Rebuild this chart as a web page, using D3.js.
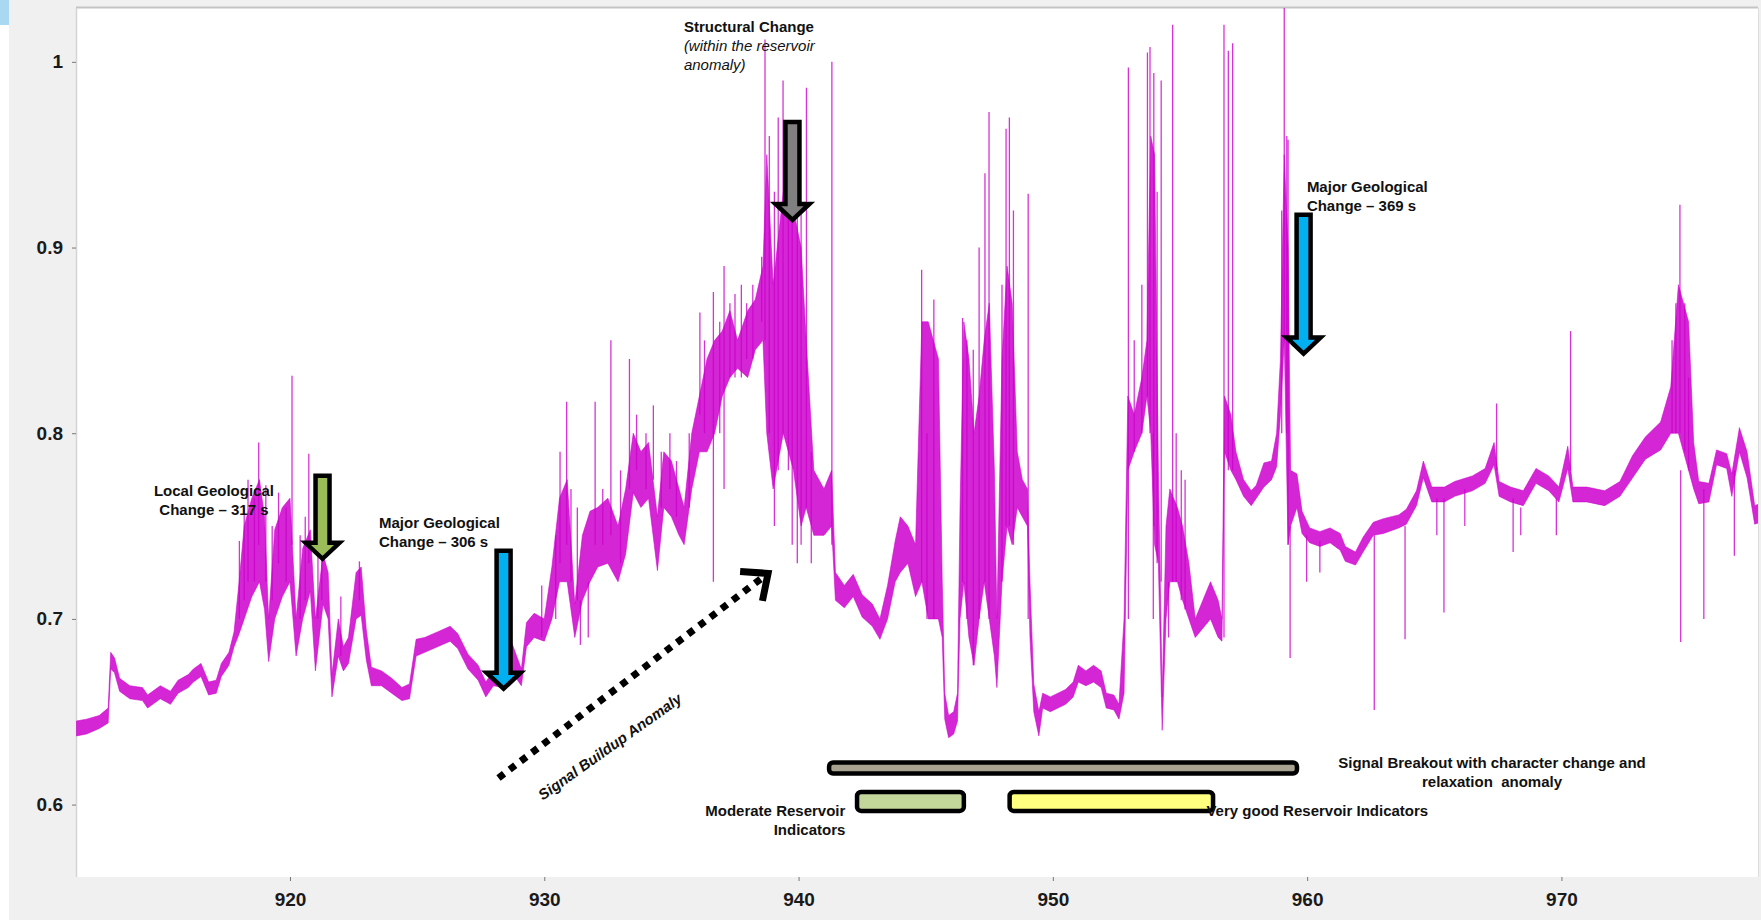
<!DOCTYPE html>
<html>
<head>
<meta charset="utf-8">
<script src="https://cdn.jsdelivr.net/npm/d3@7"></script>
<style>
  body { margin: 0; background: #fff; }
  svg { display: block; font-family: "Liberation Sans", Arial, sans-serif; }
</style>
</head>
<body>
<div id="viz"></div>
<script>
// trace envelope: time, lower and upper edge of the noisy band
var time = [911.6, 912.0, 912.5, 912.85, 912.95, 913.1, 913.3, 913.7, 914.2, 914.4, 914.9, 915.3, 915.6, 916.0, 916.2, 916.5, 916.8, 917.1, 917.3, 917.6, 917.8,
  918.0, 918.2, 918.5, 918.8, 919.0, 919.16, 919.4, 919.7, 920.0, 920.24, 920.5, 920.8, 921.0, 921.3, 921.5, 921.65, 921.9, 922.1, 922.3, 922.6, 922.8,
  923.0, 923.2, 923.6, 924.0, 924.4, 924.7, 924.96, 925.3, 925.8, 926.3, 926.6, 927.0, 927.4, 927.7, 928.0, 928.4, 928.7, 929.1, 929.3, 929.6,
  930.0, 930.3, 930.6, 930.9, 931.2, 931.5, 931.8, 932.1, 932.5, 932.9, 933.2, 933.5, 933.8, 934.1, 934.45, 934.7, 935.0, 935.3, 935.5, 935.8,
  936.1, 936.4, 936.7, 937.0, 937.3, 937.6, 938.0, 938.3, 938.6, 938.75, 939.0, 939.4, 939.8, 940.1, 940.3, 940.6, 941.0, 941.3, 941.45, 941.8,
  942.15, 942.5, 942.9, 943.2, 943.5, 943.8, 944.0, 944.3, 944.6, 944.85, 945.1, 945.5, 945.65, 945.75, 945.9, 946.1, 946.25, 946.35, 946.5, 946.7,
  946.9, 947.1, 947.3, 947.5, 947.7, 947.8, 948.0, 948.2, 948.4, 948.6, 948.8, 949.0, 949.1, 949.25, 949.45, 949.6, 949.9, 950.2, 950.5, 950.8,
  951.0, 951.3, 951.6, 951.9, 952.1, 952.4, 952.6, 952.8, 952.95, 953.2, 953.5, 953.7, 953.85, 954.0, 954.15, 954.3, 954.45, 954.6, 954.9, 955.1,
  955.35, 955.6, 955.9, 956.2, 956.5, 956.65, 956.75, 957.0, 957.2, 957.5, 957.8, 958.0, 958.3, 958.6, 958.8, 958.95, 959.1, 959.25, 959.35, 959.6,
  959.8, 960.1, 960.5, 960.9, 961.3, 961.5, 961.9, 962.2, 962.6, 963.0, 963.6, 963.9, 964.3, 964.57, 964.9, 965.4, 965.8, 966.5, 967.0, 967.35,
  967.55, 968.0, 968.5, 969.0, 969.5, 969.9, 970.25, 970.45, 971.0, 971.7, 972.3, 972.8, 973.3, 973.9, 974.3, 974.6, 975.0, 975.2, 975.4, 975.8,
  976.1, 976.5, 976.7, 977.0, 977.3, 977.6, 977.8];
var lower = [.637, .638, .641, .644, .673, .671, .661, .657, .656, .652, .657, .654, .660, .663, .666, .669, .659, .660, .669, .675, .685,
  .692, .700, .712, .720, .705, .677, .700, .712, .720, .680, .700, .715, .672, .708, .700, .658, .680, .672, .676, .700, .702,
  .678, .664, .664, .660, .656, .657, .680, .682, .685, .688, .684, .673, .667, .658, .664, .663, .672, .664, .685, .690,
  .688, .700, .720, .720, .690, .710, .720, .728, .730, .720, .735, .768, .760, .765, .726, .760, .755, .745, .740, .770,
  .790, .790, .800, .820, .830, .835, .830, .845, .850, .800, .770, .800, .780, .750, .760, .745, .745, .750, .710, .706,
  .712, .701, .696, .689, .700, .720, .725, .730, .712, .720, .700, .700, .690, .646, .636, .638, .645, .700, .720, .690,
  .675, .700, .720, .700, .680, .663, .720, .750, .740, .760, .755, .750, .690, .650, .637, .652, .650, .652, .654, .658,
  .666, .664, .666, .663, .652, .651, .646, .660, .780, .790, .800, .820, .800, .740, .730, .640, .700, .720, .720, .710,
  .700, .690, .695, .700, .690, .688, .790, .780, .775, .766, .761, .765, .771, .775, .782, .810, .850, .740, .750, .760,
  .746, .741, .739, .741, .737, .731, .729, .736, .745, .746, .749, .751, .761, .776, .763, .763, .766, .769, .773, .783,
  .766, .763, .761, .773, .769, .763, .781, .763, .763, .761, .766, .776, .786, .791, .800, .800, .780, .770, .762, .763,
  .783, .781, .766, .790, .776, .751, .752];
var upper = [.645, .646, .648, .652, .682, .679, .668, .664, .663, .659, .664, .661, .667, .670, .673, .676, .666, .667, .676, .682, .693,
  .720, .750, .765, .775, .755, .700, .748, .760, .765, .700, .738, .748, .700, .735, .725, .670, .700, .685, .690, .725, .728,
  .694, .674, .672, .668, .663, .665, .689, .690, .693, .696, .692, .681, .675, .666, .672, .671, .688, .673, .698, .703,
  .700, .728, .765, .775, .708, .745, .758, .760, .765, .750, .770, .800, .790, .795, .755, .790, .785, .770, .760, .800,
  .820, .840, .850, .855, .866, .850, .866, .872, .890, .950, .880, .930, .920, .900, .850, .780, .770, .780, .725, .718,
  .724, .713, .708, .700, .718, .742, .755, .750, .740, .860, .860, .840, .720, .660, .648, .650, .660, .760, .860, .840,
  .800, .820, .850, .870, .780, .700, .840, .890, .870, .790, .775, .770, .720, .665, .650, .660, .658, .660, .662, .666,
  .675, .672, .675, .672, .660, .659, .654, .700, .820, .810, .830, .850, .960, .950, .780, .658, .750, .770, .760, .750,
  .730, .700, .710, .720, .710, .700, .820, .810, .790, .775, .769, .772, .784, .785, .800, .840, .950, .900, .780, .778,
  .758, .749, .747, .749, .746, .739, .736, .744, .752, .754, .756, .759, .769, .785, .771, .771, .774, .777, .781, .795,
  .774, .771, .769, .781, .777, .771, .793, .771, .771, .769, .774, .788, .798, .806, .825, .880, .860, .795, .774, .773,
  .791, .789, .778, .803, .790, .761, .762];

// isolated spikes: time, value where they leave the band, value at the tip
var spikeTime = [918.01, 918.2, 918.35, 918.6, 918.77, 919.05, 919.3, 919.55, 919.85, 920.08, 920.4, 920.6, 920.74, 921.1, 921.25, 922.0, 922.73,
  929.9, 930.45, 930.62, 930.88, 931.05, 931.3, 931.42, 931.73, 932.0, 932.3, 932.62, 933.0, 933.35, 933.63, 934.0, 934.29, 934.6, 934.94, 935.2, 935.7,
  936.12, 936.3, 936.65, 936.9, 937.07, 937.3, 937.5, 937.75, 937.96, 938.2, 938.55, 938.68, 938.85, 939.05, 939.2, 939.39, 939.6, 939.75, 939.95, 940.1, 940.31, 940.5, 941.31,
  944.84, 945.05, 945.32, 946.45, 946.62, 946.87, 947.1, 947.33, 947.49, 948.0, 948.16, 948.29, 948.45, 949.03,
  952.97, 953.2, 953.5, 953.72, 953.82, 953.95, 953.97, 954.1, 954.26, 954.55, 954.71, 954.85, 955.05, 955.2,
  956.73, 956.9, 957.07, 959.0, 959.1, 959.2, 959.25, 959.33, 959.98, 960.5,
  962.64, 963.85, 965.1, 965.38, 966.2, 967.45, 968.1, 968.4, 969.8, 970.36,
  974.35, 974.5, 974.66, 974.69, 974.85, 975.0, 975.6, 976.8];
var spikeFrom = [.70, .71, .72, .72, .74, .72, .71, .73, .72, .74, .70, .71, .73, .70, .71, .68, .71,
  .69, .70, .73, .74, .72, .71, .71, .72, .74, .74, .745, .73, .77, .78, .77, .775, .76, .77, .755, .76,
  .81, .80, .72, .80, .77, .83, .83, .83, .84, .84, .86, .85, .80, .75, .78, .80, .78, .74, .73, .74, .76, .73, .74,
  .72, .70, .70, .72, .70, .675, .70, .72, .70, .72, .75, .75, .74, .70,
  .70, .79, .80, .82, .80, .80, .75, .73, .72, .72, .72, .72, .71, .705,
  .69, .78, .78, .80, .85, .80, .74, .75, .745, .742,
  .745, .75, .765, .765, .77, .78, .765, .76, .765, .78,
  .80, .80, .80, .78, .79, .78, .77, .78];
var spikeTo = [.742, .76, .775, .765, .795, .772, .75, .768, .76, .831, .745, .755, .789, .735, .748, .712, .731,
  .718, .745, .79, .817, .77, .76, .686, .69, .817, .77, .85, .78, .84, .81, .80, .815, .79, .80, .785, .80,
  .865, .85, .876, .86, .89, .87, .875, .88, .87, .88, .895, 1.012, .96, .93, .97, .99, .95, .96, .94, .92, .986, .79, 1.0,
  .888, .80, .872, .862, .85, .845, .90, .94, .973, .88, .964, .97, .92, .929,
  .997, .85, .88, 1.005, 1.008, .70, .994, .93, .99, .69, 1.02, .80, .78, .775,
  1.02, 1.006, 1.01, .92, 1.029, .96, .958, .679, .72, .725,
  .651, .689, .745, .7035, .75, .816, .736, .745, .745, .855,
  .85, .87, .923, .6875, .87, .83, .70, .734];

// reservoir / breakout zones (start, end, level)
var zoneStart = [941.2, 942.3, 948.3];
var zoneEnd = [959.6, 946.5, 956.3];
var zoneLevel = [0.6197, 0.6017, 0.6017];

var xTicks = [920, 930, 940, 950, 960, 970];
var yTicks = [0.6, 0.7, 0.8, 0.9, 1];

var width = 1761,
    height = 920;
var plot = {left: 76, top: 8, right: 1758, bottom: 877};

var x = d3.scaleLinear().domain([911.585, 977.73]).range([plot.left, plot.right]);
var y = d3.scaleLinear().domain([0.561, 1.029]).range([plot.bottom, plot.top]);

var svg = d3.select("#viz")
  .append("svg")
    .attr("width", width)
    .attr("height", height);

// window background
svg.append("rect")
    .attr("x", 9).attr("y", 0)
    .attr("width", width - 9).attr("height", height)
    .style("fill", "#f0f0f0");
svg.append("rect")
    .attr("x", 0).attr("y", 0)
    .attr("width", 9).attr("height", 25)
    .style("fill", "#a9d9f2");

svg.append("rect")
    .attr("x", plot.left).attr("y", plot.top)
    .attr("width", plot.right - plot.left).attr("height", plot.bottom - plot.top)
    .style("fill", "#fff");
svg.append("line")
    .attr("x1", plot.left).attr("x2", plot.right)
    .attr("y1", plot.top - 0.5).attr("y2", plot.top - 0.5)
    .style("stroke", "#c4c4c4").style("stroke-width", 2);
svg.append("line")
    .attr("x1", plot.left + 0.5).attr("x2", plot.left + 0.5)
    .attr("y1", plot.top).attr("y2", plot.bottom)
    .style("stroke", "#d4d4d4").style("stroke-width", 1.5);
svg.append("line")
    .attr("x1", plot.right + 0.5).attr("x2", plot.right + 0.5)
    .attr("y1", plot.top).attr("y2", plot.bottom)
    .style("stroke", "#dcdcdc").style("stroke-width", 1);

svg.append("clipPath").attr("id", "clip")
  .append("rect")
    .attr("x", plot.left).attr("y", plot.top)
    .attr("width", plot.right - plot.left).attr("height", plot.bottom - plot.top);

// axes
var yAxis = d3.axisLeft(y).tickValues(yTicks).tickFormat(d3.format("")).tickSize(4).tickPadding(9);
var xAxis = d3.axisBottom(x).tickValues(xTicks).tickFormat(d3.format("d")).tickSize(4).tickPadding(12);

var gy = svg.append("g").attr("transform", "translate(" + plot.left + ",0)").call(yAxis);
var gx = svg.append("g").attr("transform", "translate(0," + plot.bottom + ")").call(xAxis);
[gx, gy].forEach(function(g) {
  g.select(".domain").remove();
  g.selectAll(".tick line").style("stroke", "#777");
  g.selectAll(".tick text")
      .style("font-family", "'Liberation Sans', Arial, sans-serif")
      .style("font-size", "19px")
      .style("font-weight", "bold")
      .style("fill", "#1a1a1a");
});

// signal
var trace = time.map(function(t, i) { return {t: t, lo: lower[i], hi: upper[i]}; });
var spikes = spikeTime.map(function(t, i) { return {t: t, a: spikeFrom[i], b: spikeTo[i]}; });

var gSig = svg.append("g").attr("clip-path", "url(#clip)");

gSig.append("path")
    .datum(trace)
    .attr("d", d3.area()
      .x(function(d) { return x(d.t); })
      .y0(function(d) { return y(d.lo); })
      .y1(function(d) { return y(d.hi); }))
    .style("fill", "#cc00cc")
    .style("fill-opacity", 0.85)
    .style("stroke", "#cc00cc")
    .style("stroke-width", 0.8)
    .style("stroke-opacity", 0.7);

gSig.selectAll(".spike")
    .data(spikes)
  .enter().append("line")
    .attr("class", "spike")
    .attr("x1", function(d) { return x(d.t); })
    .attr("x2", function(d) { return x(d.t); })
    .attr("y1", function(d) { return y(d.a); })
    .attr("y2", function(d) { return y(d.b); })
    .style("stroke", "#cc00cc")
    .style("stroke-width", 1.3)
    .style("stroke-opacity", 0.8);

// zones
var zoneFill = ["#a8a290", "#c4d79b", "#ffff80"];
var zoneH = [11, 19, 19];
svg.selectAll(".zone")
    .data(zoneStart)
  .enter().append("rect")
    .attr("class", "zone")
    .attr("x", function(d) { return x(d); })
    .attr("y", function(d, i) { return y(zoneLevel[i]) - zoneH[i] / 2; })
    .attr("width", function(d, i) { return x(zoneEnd[i]) - x(d); })
    .attr("height", function(d, i) { return zoneH[i]; })
    .attr("rx", 4)
    .style("fill", function(d, i) { return zoneFill[i]; })
    .style("stroke", "#000")
    .style("stroke-width", 4.5);

// block arrows
var arrows = [
  {t: 921.28, top: 0.7785, tip: 0.7305, fill: "#9bbb59"},
  {t: 928.4, top: 0.738, tip: 0.6605, fill: "#00b0f0"},
  {t: 939.76, top: 0.969, tip: 0.913, fill: "#808080"},
  {t: 959.86, top: 0.919, tip: 0.841, fill: "#00b0f0"}
];
function blockArrow(d) {
  var cx = x(d.t), y0 = y(d.top) + 2.5, y1 = y(d.tip) - 3.5;
  var sw = 7, hw = 17, hh = 16;
  var p = d3.path();
  p.moveTo(cx - sw, y0);
  p.lineTo(cx + sw, y0);
  p.lineTo(cx + sw, y1 - hh);
  p.lineTo(cx + hw, y1 - hh);
  p.lineTo(cx, y1);
  p.lineTo(cx - hw, y1 - hh);
  p.lineTo(cx - sw, y1 - hh);
  p.closePath();
  return p.toString();
}
svg.selectAll(".arrow")
    .data(arrows)
  .enter().append("path")
    .attr("class", "arrow")
    .attr("d", blockArrow)
    .style("fill", function(d) { return d.fill; })
    .style("stroke", "#000")
    .style("stroke-width", 4.5)
    .style("stroke-linejoin", "miter");

// dotted buildup arrow (tip at b1)
var b0 = {t: 928.2, v: 0.6143}, b1 = {t: 938.8, v: 0.7245};
var ang = Math.atan2(y(b1.v) - y(b0.v), x(b1.t) - x(b0.t));
var tipX = x(b1.t), tipY = y(b1.v);
svg.append("line")
    .attr("x1", x(b0.t)).attr("y1", y(b0.v))
    .attr("x2", tipX - 9 * Math.cos(ang)).attr("y2", tipY - 9 * Math.sin(ang))
    .style("stroke", "#000")
    .style("stroke-width", 7)
    .style("stroke-dasharray", "7,7");
var head = d3.path();
head.moveTo(tipX - 28 * Math.cos(ang - 0.72), tipY - 28 * Math.sin(ang - 0.72));
head.lineTo(tipX, tipY);
head.lineTo(tipX - 28 * Math.cos(ang + 0.72), tipY - 28 * Math.sin(ang + 0.72));
svg.append("path")
    .attr("d", head.toString())
    .style("fill", "none")
    .style("stroke", "#000")
    .style("stroke-width", 7)
    .style("stroke-linejoin", "miter");

// labels
var labels = [
  {t: 917.01, v: 0.7662, anchor: "middle", lines: ["Local Geological", "Change \u2013 317 s"]},
  {t: 923.5, v: 0.749, anchor: "start", lines: ["Major Geological", "Change \u2013 306 s"]},
  {t: 959.99, v: 0.93, anchor: "start", lines: ["Major Geological", "Change \u2013 369 s"]},
  {t: 967.27, v: 0.6197, anchor: "middle", lines: ["Signal Breakout with character change and", "relaxation  anomaly"]},
  {t: 941.84, v: 0.5939, anchor: "end", lines: ["Moderate Reservoir", "Indicators"]},
  {t: 956.04, v: 0.5939, anchor: "start", lines: ["Very good Reservoir Indicators"]}
];
labels.forEach(function(l) {
  var txt = svg.append("text")
      .attr("x", x(l.t)).attr("y", y(l.v))
      .attr("text-anchor", l.anchor)
      .style("font-size", "15px")
      .style("font-weight", "bold")
      .style("fill", "#111")
      .style("white-space", "pre");
  l.lines.forEach(function(s, i) {
    txt.append("tspan").attr("x", x(l.t)).attr("dy", i ? 19 : 0).text(s);
  });
});

var sc = svg.append("text")
    .attr("x", x(935.49)).attr("y", y(1.016))
    .style("font-size", "15px")
    .style("fill", "#111");
sc.append("tspan").attr("x", x(935.49)).style("font-weight", "bold").text("Structural Change");
sc.append("tspan").attr("x", x(935.49)).attr("dy", 19).style("font-style", "italic").text("(within the reservoir");
sc.append("tspan").attr("x", x(935.49)).attr("dy", 19).style("font-style", "italic").text("anomaly)");

svg.append("text")
    .attr("transform", "translate(" + x(932.7) + "," + (y(0.6316) + 5) + ") rotate(-35.4)")
    .attr("text-anchor", "middle")
    .style("font-size", "15px")
    .style("font-style", "italic")
    .style("font-weight", "bold")
    .style("fill", "#111")
    .text("Signal Buildup Anomaly");
</script>
</body>
</html>
